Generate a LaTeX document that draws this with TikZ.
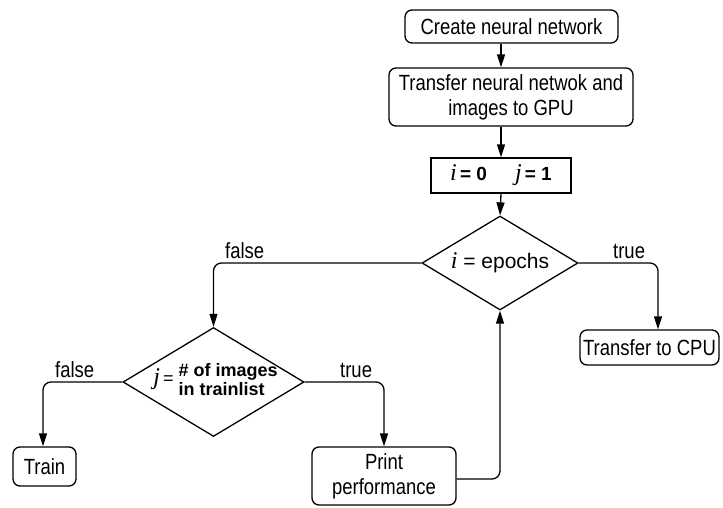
\documentclass[tikz,border=0pt]{standalone}
\usepackage{fontspec}
\setmainfont{Liberation Sans}[FakeStretch=0.84]
\newfontfamily\diafont{Liberation Sans}
\newfontfamily\varfont{Liberation Serif}
\usetikzlibrary{shapes.geometric,arrows.meta}
\tikzset{
  box/.style={draw, line width=1.3pt, rounded corners=7pt, align=center, inner sep=0pt, font=\fontsize{22}{25}\selectfont},
  sqbox/.style={draw, line width=1.3pt, inner sep=0pt, font=\fontsize{19}{20}\selectfont},
  dia/.style={draw, diamond, line width=1.3pt, inner sep=0pt},
  diatext/.style={inner sep=0pt, align=center, font=\diafont\fontsize{21}{22}\selectfont},
  arr/.style={line width=1.3pt, -{Triangle[length=13pt,width=8pt]}, rounded corners=8pt},
  lab/.style={inner sep=0pt, font=\fontsize{22}{24}\selectfont}
}
\newcommand{\vi}{{\varfont\itshape\fontsize{24}{24}\selectfont i}}
\newcommand{\vj}{{\varfont\itshape\fontsize{24}{24}\selectfont j}}
\begin{document}
\begin{tikzpicture}[x=1pt,y=-1pt]
\useasboundingbox (0,0) rectangle (723,507);
\node[box, minimum width=213, minimum height=33] (create) at (511.5,26.5) {Create neural network};
\node[box, minimum width=244, minimum height=58] (gpu) at (511,97) {Transfer neural netwok and\\images to GPU};
\node[sqbox, minimum width=140, minimum height=35] (init) at (501,175.5) {\vi\,{\bfseries\diafont = 0}\hspace{28pt}\vj\,{\bfseries\diafont = 1}};
\node[dia, minimum width=156, minimum height=94] (epochs) at (500,263) {};
\node[diatext] (epochsT) at (epochs.center) {\vi\ = epochs};
\node[dia, minimum width=181, minimum height=109] (imgs) at (213.5,382) {};
\node[diatext, font=\diafont\fontsize{18}{19}\selectfont] (imgsT) at ([xshift=2pt]imgs.center) {\raisebox{2pt}{\vj\,=}\hspace{5pt}\begin{tabular}[c]{@{}l@{}}\bfseries\# of images\\\bfseries in trainlist\end{tabular}};
\node[box, minimum width=63, minimum height=39] (train) at (44.5,466.5) {Train};
\node[box, minimum width=144, minimum height=58] (print) at (384,476) {Print\\performance};
\node[box, minimum width=139, minimum height=35] (cpu) at (649.5,347.5) {Transfer to CPU};
\draw[arr] (create.south -| init.north) -- (gpu.north -| init.north);
\draw[arr] (gpu.south -| init.north) -- (init.north);
\draw[arr] (init.south) -- (epochs.north);
\draw[arr] (epochs.west) -| (imgs.north);
\draw[arr] (imgs.west) -| ([xshift=-1.5pt]train.north);
\draw[arr] (imgs.east) -| (print.north);
\draw[arr] (epochs.east) -| ([xshift=8.5pt]cpu.north);
\draw[arr] ([yshift=-3pt]print.east) -| (epochs.south);
\node[lab, anchor=south west] (f1) at (225,259) {false};
\node[lab, anchor=south west] (t1) at (613,259) {true};
\node[lab, anchor=south west] (f2) at (55,378) {false};
\node[lab, anchor=south west] (t2) at (340,378) {true};
\end{tikzpicture}
\end{document}
